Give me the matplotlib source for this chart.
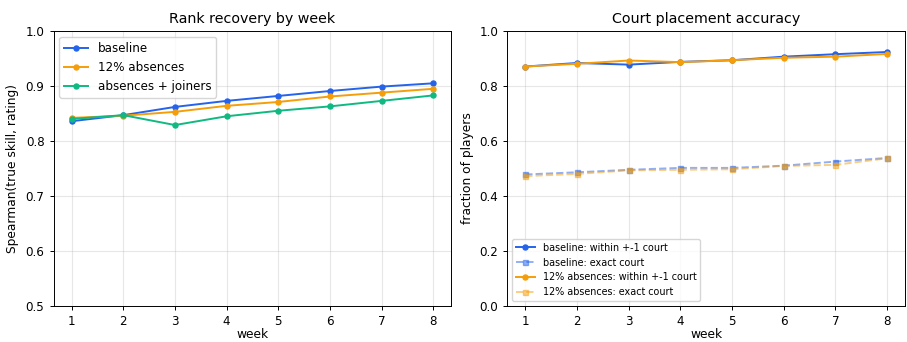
import numpy as np
import matplotlib
matplotlib.use('Agg')
import matplotlib.pyplot as plt

weeks = [1, 2, 3, 4, 5, 6, 7, 8]

# rank recovery (spearman)
rank_baseline = [0.836, 0.847, 0.862, 0.873, 0.882, 0.891, 0.899, 0.905]
rank_absences = [0.842, 0.846, 0.853, 0.864, 0.871, 0.881, 0.888, 0.895]
rank_joiners = [0.840, 0.847, 0.829, 0.845, 0.855, 0.863, 0.873, 0.883]

# court placement
within_baseline = [0.871, 0.884, 0.878, 0.888, 0.894, 0.907, 0.916, 0.924]
exact_baseline = [0.478, 0.486, 0.495, 0.502, 0.502, 0.510, 0.525, 0.538]
within_absences = [0.871, 0.881, 0.893, 0.887, 0.894, 0.903, 0.907, 0.917]
exact_absences = [0.472, 0.480, 0.493, 0.495, 0.497, 0.509, 0.513, 0.537]

BLUE = '#2563eb'
ORANGE = '#f59e0b'
GREEN = '#10b981'

plt.rcParams.update({
    'font.size': 8.6,
    'axes.titlesize': 10.3,
    'axes.labelsize': 8.8,
    'xtick.labelsize': 8.6,
    'ytick.labelsize': 8.6,
    'legend.fontsize': 8.6,
    'axes.linewidth': 0.7,
    'xtick.major.width': 0.7,
    'ytick.major.width': 0.7,
    'xtick.major.size': 3,
    'ytick.major.size': 3,
})

fig, (ax1, ax2) = plt.subplots(1, 2, figsize=(9.07, 3.42), dpi=100)
fig.subplots_adjust(left=0.059, right=0.998, bottom=0.106, top=0.909, wspace=0.14)

ms, lw = 3.6, 1.4
ax1.plot(weeks, rank_baseline, '-o', color=BLUE, ms=ms, lw=lw, label='baseline')
ax1.plot(weeks, rank_absences, '-o', color=ORANGE, ms=ms, lw=lw, label='12% absences')
ax1.plot(weeks, rank_joiners, '-o', color=GREEN, ms=ms, lw=lw, label='absences + joiners')
ax1.set_ylim(0.5, 1.0)
ax1.set_title('Rank recovery by week')
ax1.set_xlabel('week', labelpad=0.5)
ax1.set_ylabel('Spearman(true skill, rating)', labelpad=5)
ax1.set_xticks(weeks)
ax1.grid(alpha=0.3)
ax1.legend(loc='upper left')

ax2.plot(weeks, within_baseline, '-o', color=BLUE, ms=ms, lw=lw, label='baseline: within +-1 court')
ax2.plot(weeks, exact_baseline, '--s', color=BLUE, ms=ms, lw=lw, alpha=0.5, label='baseline: exact court')
ax2.plot(weeks, within_absences, '-o', color=ORANGE, ms=ms, lw=lw, label='12% absences: within +-1 court')
ax2.plot(weeks, exact_absences, '--s', color=ORANGE, ms=ms, lw=lw, alpha=0.5, label='12% absences: exact court')
ax2.set_ylim(0, 1.0)
ax2.set_title('Court placement accuracy')
ax2.set_xlabel('week', labelpad=0.5)
ax2.set_ylabel('fraction of players')
ax2.set_xticks(weeks)
ax2.grid(alpha=0.3)
ax2.legend(loc='lower left', fontsize=6.9)

plt.savefig('out.png')
